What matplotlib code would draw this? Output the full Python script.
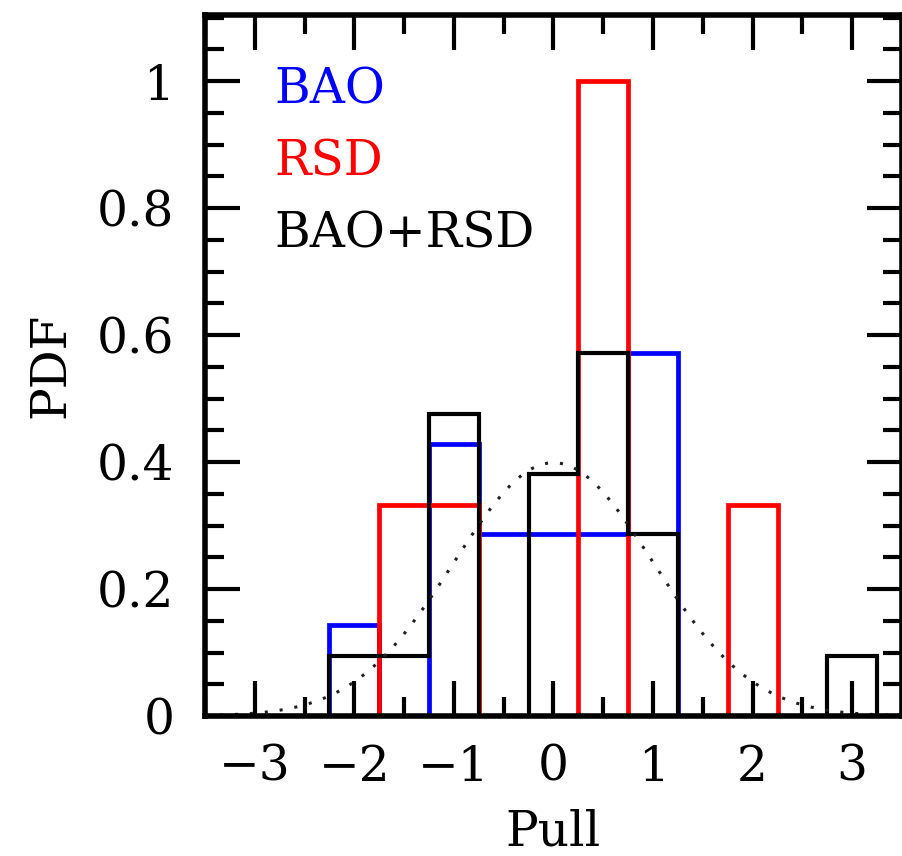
import numpy as np
import matplotlib
matplotlib.use("Agg")
import matplotlib.pyplot as plt
from matplotlib.ticker import MultipleLocator

# Bin centres of the pull histograms (width 0.5)
bin_centers = [-3.0, -2.5, -2.0, -1.5, -1.0, -0.5, 0.0, 0.5, 1.0, 1.5, 2.0, 2.5, 3.0]
bin_width = 0.5

# Normalised histogram heights (PDF) per bin
pdf_bao = [0.0, 0.0, 0.143, 0.0, 0.429, 0.286, 0.286, 0.286, 0.571, 0.0, 0.0, 0.0, 0.0]
pdf_rsd = [0.0, 0.0, 0.0, 0.333, 0.333, 0.0, 0.0, 1.0, 0.0, 0.0, 0.333, 0.0, 0.0]
pdf_both = [0.0, 0.0, 0.095, 0.095, 0.476, 0.0, 0.381, 0.571, 0.286, 0.0, 0.0, 0.0, 0.095]

series_labels = ["BAO", "RSD", "BAO+RSD"]
series_colors = ["#0000ff", "#ff0000", "#000000"]
series_widths = [3.4, 3.4, 3.0]

x_ticks = [-3, -2, -1, 0, 1, 2, 3]
y_ticks = [0, 0.2, 0.4, 0.6, 0.8, 1.0]
y_tick_labels = ["0", "0.2", "0.4", "0.6", "0.8", "1"]

plt.rcParams["font.family"] = ["DejaVu Serif"]
plt.rcParams["mathtext.fontset"] = "dejavuserif"
FS = 35

fig = plt.figure(figsize=(9.03, 8.56), dpi=100)
ax = fig.add_axes([205 / 903, 140 / 856, 697 / 903, 701 / 856])

centers = np.asarray(bin_centers)
edges = np.append(centers - bin_width / 2, centers[-1] + bin_width / 2)

for vals, col, lw in zip([pdf_bao, pdf_rsd, pdf_both], series_colors, series_widths):
    ax.stairs(vals, edges, color=col, linewidth=lw, baseline=0.0)

# Unit Gaussian for reference
xg = np.linspace(-3.5, 3.5, 400)
ax.plot(xg, np.exp(-0.5 * xg ** 2) / np.sqrt(2 * np.pi), color="#202020",
        linewidth=2.2, linestyle=(0, (1, 3.9)))

ax.set_xlim(-3.5, 3.5)
ax.set_ylim(0, 1.104)

ax.set_xticks(x_ticks)
ax.set_xticklabels([("\u2212%d" % abs(v)) if v < 0 else str(v) for v in x_ticks])
ax.set_yticks(y_ticks)
ax.set_yticklabels(y_tick_labels)
ax.xaxis.set_minor_locator(MultipleLocator(0.5))
ax.yaxis.set_minor_locator(MultipleLocator(0.05))

ax.tick_params(which="both", direction="in", top=True, right=True, width=3.0,
               labelsize=FS)
ax.tick_params(which="major", length=25)
ax.tick_params(which="minor", length=14)
ax.tick_params(axis="x", which="major", pad=20)
ax.tick_params(axis="y", which="major", pad=22)

for sp in ax.spines.values():
    sp.set_linewidth(4.0)

ax.set_xlabel("Pull", fontsize=FS, labelpad=13)
ax.set_ylabel("PDF", fontsize=FS, labelpad=16)

for i, (lab, col) in enumerate(zip(series_labels, series_colors)):
    ax.text(0.10, 0.874 - 0.1025 * i, lab, color=col, fontsize=FS,
            transform=ax.transAxes, ha="left", va="baseline")

fig.savefig("out.png", dpi=100)
